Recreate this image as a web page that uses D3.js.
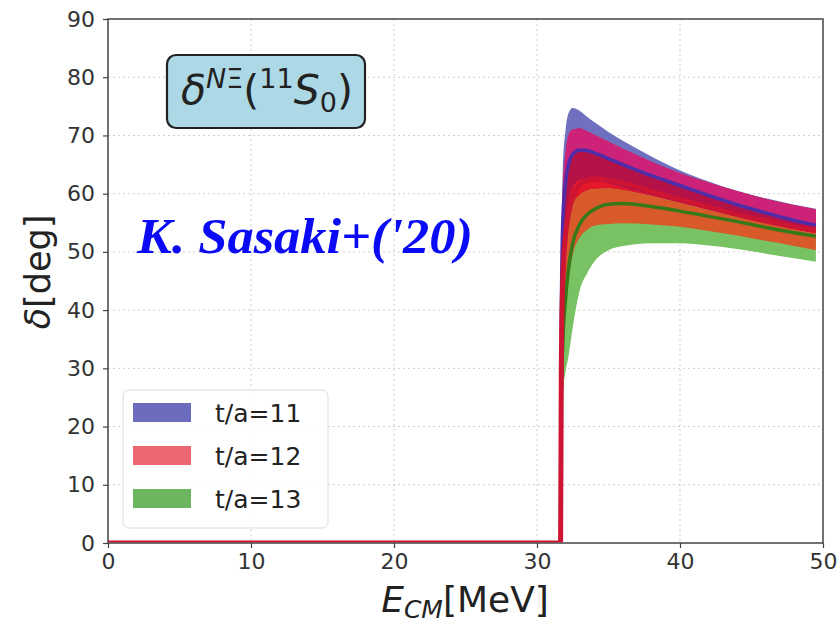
<!DOCTYPE html>
<html>
<head>
<meta charset="utf-8">
<script src="https://cdn.jsdelivr.net/npm/d3@7"></script>
<style>
body { margin: 0; background: #fff; }
svg { display: block; }
</style>
</head>
<body>
<main></main>
<script>
// Datos
const energy = [0, 31.65, 31.7, 31.8, 32.0, 32.2, 32.5, 33.0, 33.5, 34, 35, 36, 38, 40, 42, 44, 46, 48, 49.5];

const ta11Upper  = [0, 0, 45, 64, 71, 73.8, 74.7, 74.2, 73.2, 72.3, 70.6, 69.1, 66.4, 64.0, 62.1, 60.5, 59.2, 58.1, 57.4];
const ta11Center = [0, 0, 38, 55, 62, 65, 66.8, 67.5, 67.4, 67.0, 66.0, 65.0, 63.1, 61.4, 59.7, 58.1, 56.7, 55.4, 54.6];
const ta11Lower  = [0, 0, 32, 48, 55, 58.5, 61.2, 62.4, 62.6, 62.4, 61.8, 61.1, 59.8, 58.5, 57.2, 56.0, 54.9, 54.0, 53.5];

const ta12Upper  = [0, 0, 42, 60, 67, 70, 71.0, 71.2, 70.7, 70.1, 68.9, 67.7, 65.5, 63.5, 61.9, 60.4, 59.1, 58.0, 57.3];
const ta12Center = [0, 0, 30, 45, 53, 56.5, 59.5, 61.6, 62.3, 62.5, 62.3, 61.8, 60.4, 59.0, 57.7, 56.4, 55.3, 54.3, 53.7];
const ta12Lower  = [0, 0, 20, 32, 41, 45.5, 49.5, 52.5, 53.8, 54.5, 54.8, 54.9, 54.7, 54.3, 53.6, 52.8, 51.9, 51.0, 50.3];

const ta13Upper  = [0, 0, 30, 45, 52, 55.5, 58, 59.8, 60.5, 60.8, 60.9, 60.6, 59.6, 58.4, 57.2, 56.0, 54.9, 53.8, 53.1];
const ta13Center = [0, 0, 24, 34, 42, 47, 51.5, 54.8, 56.4, 57.3, 58.2, 58.3, 57.8, 57.0, 56.1, 55.2, 54.2, 53.3, 52.7];
const ta13Lower  = [0, 0, 18, 25, 29.5, 32, 37, 43.5, 46.3, 48.3, 50.3, 51.0, 51.5, 51.5, 51.1, 50.5, 49.7, 48.9, 48.3];

const legendLabels = ['t/a=11', 't/a=12', 't/a=13'];
const xTicks = [0, 10, 20, 30, 40, 50];
const yTicks = [0, 10, 20, 30, 40, 50, 60, 70, 80, 90];

// Tamanos
const w = 840, h = 624;
const m = { l: 108, r: 823, t: 19, b: 543 };

const x = d3.scaleLinear().domain([0, 50]).range([m.l, m.r]);
const y = d3.scaleLinear().domain([0, 90]).range([m.b, m.t]);

const svg = d3.select('main')
    .append('svg')
    .attr('width', w)
    .attr('height', h);

// Rejilla
const grid = svg.append('g');
grid.selectAll('.gx')
    .data(xTicks.slice(1, -1))
    .enter()
    .append('line')
    .attr('x1', d => x(d)).attr('x2', d => x(d))
    .attr('y1', m.t).attr('y2', m.b)
    .attr('stroke', '#cfcfcf')
    .attr('stroke-width', 1)
    .attr('stroke-dasharray', '2,3');
grid.selectAll('.gy')
    .data(yTicks.slice(1, -1))
    .enter()
    .append('line')
    .attr('x1', m.l).attr('x2', m.r)
    .attr('y1', d => y(d)).attr('y2', d => y(d))
    .attr('stroke', '#cfcfcf')
    .attr('stroke-width', 1)
    .attr('stroke-dasharray', '2,3');

svg.append('clipPath').attr('id', 'clip')
    .append('rect')
    .attr('x', m.l).attr('y', m.t)
    .attr('width', m.r - m.l).attr('height', m.b - m.t - 0.7);

const plot = svg.append('g').attr('clip-path', 'url(#clip)');

// Helpers para bandas y solapes
const maxOf = (a, b) => a.map((v, i) => Math.max(v, b[i]));
const minOf = (a, b) => a.map((v, i) => Math.min(v, b[i]));

function band(lo, hi, color) {
    const area = d3.area()
        .x((d, i) => x(energy[i]))
        .y0((d, i) => y(lo[i]))
        .y1((d, i) => y(Math.max(lo[i], hi[i])))
        .curve(d3.curveMonotoneX);
    plot.append('path')
        .attr('d', area(energy))
        .attr('fill', color);
}

function line(g, vals, color, width) {
    const ln = d3.line()
        .x((d, i) => x(energy[i]))
        .y((d, i) => y(vals[i]))
        .curve(d3.curveMonotoneX);
    g.append('path')
        .attr('d', ln(energy))
        .attr('fill', 'none')
        .attr('stroke', color)
        .attr('stroke-width', width)
        .attr('stroke-linejoin', 'round');
}

// t/a=11 y t/a=12
band(ta11Lower, ta11Upper, 'rgb(112,112,192)');
band(ta12Lower, ta12Upper, 'rgb(228,24,40)');
band(maxOf(ta11Lower, ta12Lower), minOf(ta11Upper, ta12Upper), 'rgb(204,34,120)');
band(maxOf(ta11Lower, ta12Lower), minOf(ta11Center, ta12Upper), 'rgb(180,18,70)');
// t/a=13
band(ta13Lower, ta13Upper, 'rgb(120,194,100)');
band(maxOf(ta13Lower, ta12Lower), minOf(ta13Upper, ta12Upper), 'rgb(216,90,42)');

// Marco
svg.append('rect')
    .attr('x', m.l).attr('y', m.t)
    .attr('width', m.r - m.l).attr('height', m.b - m.t)
    .attr('fill', 'none')
    .attr('stroke', '#444')
    .attr('stroke-width', 1.5);

// Lineas centrales
const lines = svg.append('g').attr('clip-path', 'url(#clip)');
line(lines, ta11Center, 'rgb(80,45,168)', 3.5);
line(lines, ta13Center, 'rgb(55,120,25)', 3.5);
line(lines, ta12Center, 'rgb(205,20,50)', 5);

// Ejes
const xAxis = svg.append('g')
    .attr('transform', `translate(0,${m.b})`)
    .call(d3.axisBottom(x).tickValues(xTicks).tickSize(5).tickPadding(5));
const yAxis = svg.append('g')
    .attr('transform', `translate(${m.l},0)`)
    .call(d3.axisLeft(y).tickValues(yTicks).tickSize(5).tickPadding(8));

[xAxis, yAxis].forEach(ax => {
    ax.select('.domain').remove();
    ax.selectAll('line').attr('stroke', '#444').attr('stroke-width', 1.2);
    ax.selectAll('text')
        .attr('fill', '#333')
        .style('font-family', 'DejaVu Sans')
        .style('font-size', '22px');
});

// Titulos de ejes
svg.append('text')
    .attr('transform', 'translate(50,272) rotate(-90)')
    .attr('text-anchor', 'middle')
    .attr('fill', '#222')
    .style('font-family', 'DejaVu Sans')
    .style('font-size', '35px')
    .html('<tspan font-style="italic">δ</tspan>[deg]');

const xl = svg.append('text')
    .attr('x', 465).attr('y', 612)
    .attr('text-anchor', 'middle')
    .attr('fill', '#222')
    .style('font-family', 'DejaVu Sans')
    .style('font-size', '36px');
xl.append('tspan').attr('font-style', 'italic').text('E');
xl.append('tspan').attr('font-style', 'italic').attr('font-size', '25px').attr('dy', 6).text('CM');
xl.append('tspan').attr('dy', -6).text('[MeV]');

// Caja del titulo
svg.append('rect')
    .attr('x', 167).attr('y', 55)
    .attr('width', 198).attr('height', 73)
    .attr('rx', 9)
    .attr('fill', 'rgb(173,216,230)')
    .attr('stroke', '#222')
    .attr('stroke-width', 2.2);

const tt = svg.append('text')
    .attr('x', 181).attr('y', 104)
    .attr('fill', '#222')
    .style('font-family', 'DejaVu Sans')
    .style('font-size', '41px');
tt.append('tspan').attr('font-style', 'italic').text('δ');
tt.append('tspan').attr('font-style', 'italic').attr('font-size', '27px').attr('dy', -16).text('N');
tt.append('tspan').attr('font-size', '27px').text('Ξ');
tt.append('tspan').attr('dy', 16).text('(');
tt.append('tspan').attr('font-size', '27px').attr('dy', -16).text('11');
tt.append('tspan').attr('font-style', 'italic').attr('dy', 16).text('S');
tt.append('tspan').attr('font-size', '27px').attr('dy', 8).text('0');
tt.append('tspan').attr('dy', -8).text(')');

// Autor
svg.append('text')
    .attr('x', 137).attr('y', 253)
    .attr('fill', 'rgb(10,10,245)')
    .attr('textLength', 336)
    .attr('lengthAdjust', 'spacingAndGlyphs')
    .style('font-family', 'Liberation Serif')
    .style('font-weight', 'bold')
    .style('font-style', 'italic')
    .style('font-size', '50px')
    .text("K. Sasaki+('20)");

// Leyenda
const legendColors = ['rgb(108,108,190)', 'rgb(236,102,112)', 'rgb(108,182,96)'];
const lg = svg.append('g');
lg.append('rect')
    .attr('x', 123).attr('y', 390)
    .attr('width', 205).attr('height', 138)
    .attr('rx', 6)
    .attr('fill', 'rgba(255,255,255,0.85)')
    .attr('stroke', '#dcdcdc');

const items = lg.selectAll('.item')
    .data(legendLabels)
    .enter()
    .append('g')
    .attr('transform', (d, i) => `translate(133,${413 + i * 43})`);
items.append('rect')
    .attr('x', 0).attr('y', -10)
    .attr('width', 58).attr('height', 19)
    .attr('fill', (d, i) => legendColors[i]);
items.append('text')
    .attr('x', 82).attr('y', 0)
    .attr('dominant-baseline', 'central')
    .attr('fill', '#222')
    .style('font-family', 'DejaVu Sans')
    .style('font-size', '25px')
    .text(d => d);
</script>
</body>
</html>
